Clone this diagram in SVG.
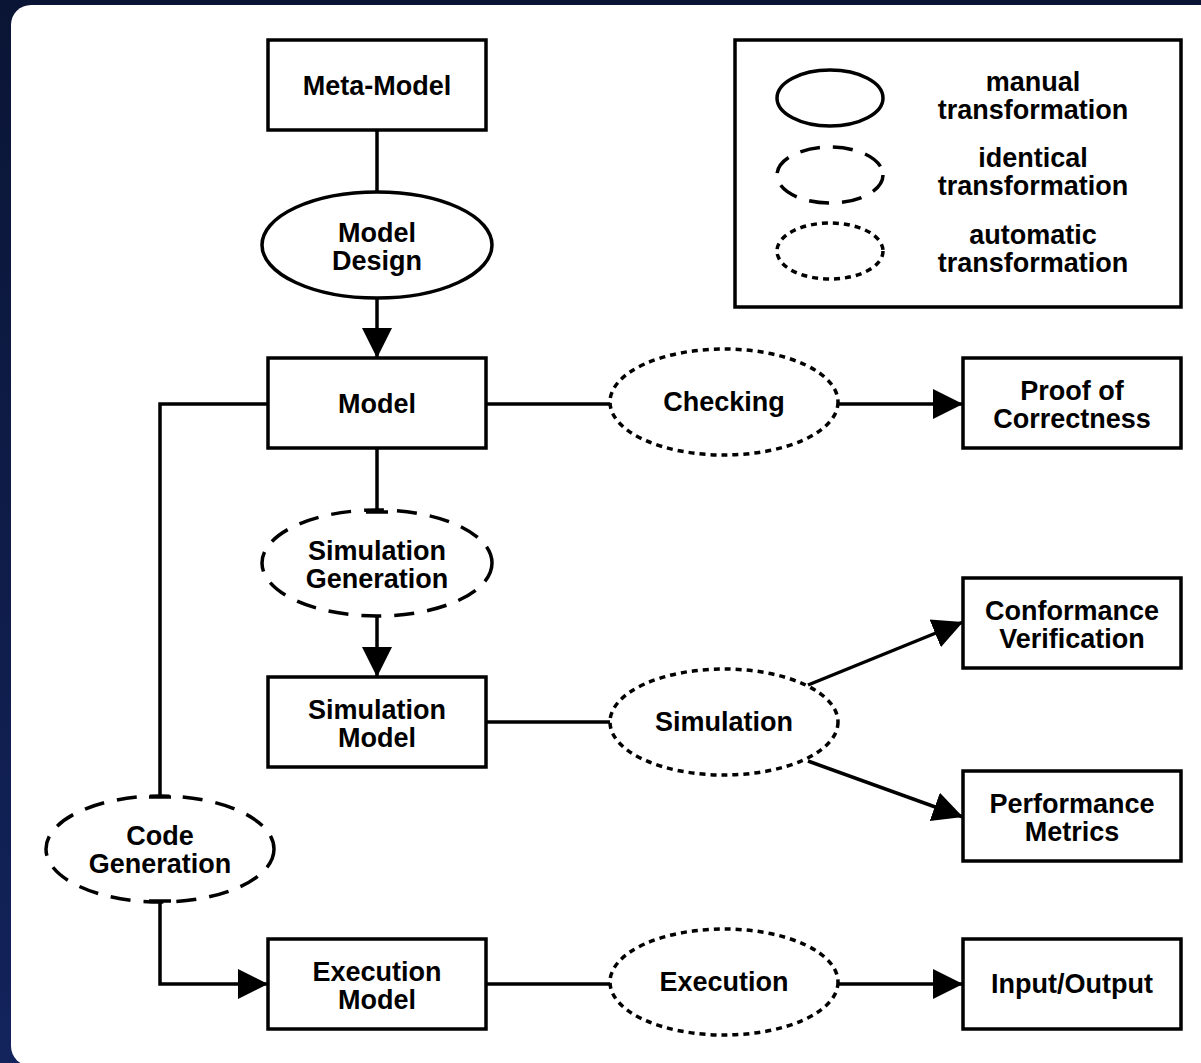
<svg xmlns="http://www.w3.org/2000/svg" width="1201" height="1063" viewBox="0 0 1201 1063">
<style>
.box{fill:#fff;stroke:#000;stroke-width:3.5}
.man{fill:#fff;stroke:#000;stroke-width:3.5}
.ide{fill:#fff;stroke:#000;stroke-width:3.5;stroke-dasharray:20 13}
.aut{fill:#fff;stroke:#000;stroke-width:3.5;stroke-dasharray:6 5}
.c{fill:none;stroke:#000;stroke-width:3.5}
text{font-family:"Liberation Sans",Arial,Helvetica,sans-serif;font-weight:bold;font-size:27px;text-anchor:middle;fill:#000}
</style>
<defs>
<linearGradient id="bg" x1="0" y1="0" x2="0" y2="1">
<stop offset="0" stop-color="#0a1535"/>
<stop offset="1" stop-color="#13235c"/>
</linearGradient>
<marker id="arr" markerUnits="userSpaceOnUse" markerWidth="32" markerHeight="32" refX="30" refY="15" orient="auto" viewBox="0 0 32 30">
<path d="M0,0 L30,15 L0,30 z" fill="#000"/>
</marker>
<marker id="tee" markerUnits="userSpaceOnUse" markerWidth="6" markerHeight="24" refX="3" refY="12" orient="auto" viewBox="0 0 6 24">
<path d="M3,1 L3,23" stroke="#000" stroke-width="3.5"/>
</marker>
</defs>
<rect x="0" y="0" width="1201" height="1063" fill="url(#bg)"/>
<rect x="11" y="5" width="1210" height="1061" rx="20" ry="20" fill="#fff"/>

<g id="meta-model">
<rect class="box" x="268" y="40" width="218" height="90"/>
<text x="377" y="95">Meta-Model</text>
</g>
<g id="model-design">
<ellipse class="man" cx="377" cy="245" rx="115" ry="53"/>
<text x="377" y="242">Model</text>
<text x="377" y="270">Design</text>
</g>
<g id="model">
<rect class="box" x="268" y="358" width="218" height="90"/>
<text x="377" y="413">Model</text>
</g>
<g id="checking">
<ellipse class="aut" cx="724" cy="402" rx="114" ry="53"/>
<text x="724" y="411">Checking</text>
</g>
<g id="proof-of-correctness">
<rect class="box" x="963" y="358" width="218" height="90"/>
<text x="1072" y="400">Proof of</text>
<text x="1072" y="428">Correctness</text>
</g>
<g id="simulation-generation">
<ellipse class="ide" cx="377" cy="563" rx="115" ry="53"/>
<text x="377" y="560">Simulation</text>
<text x="377" y="588">Generation</text>
</g>
<g id="simulation-model">
<rect class="box" x="268" y="677" width="218" height="90"/>
<text x="377" y="719">Simulation</text>
<text x="377" y="747">Model</text>
</g>
<g id="simulation">
<ellipse class="aut" cx="724" cy="722" rx="114" ry="53"/>
<text x="724" y="731">Simulation</text>
</g>
<g id="conformance-verification">
<rect class="box" x="963" y="578" width="218" height="90"/>
<text x="1072" y="620">Conformance</text>
<text x="1072" y="648">Verification</text>
</g>
<g id="performance-metrics">
<rect class="box" x="963" y="771" width="218" height="90"/>
<text x="1072" y="813">Performance</text>
<text x="1072" y="841">Metrics</text>
</g>
<g id="code-generation">
<ellipse class="ide" cx="160" cy="849" rx="114" ry="53"/>
<text x="160" y="845">Code</text>
<text x="160" y="873">Generation</text>
</g>
<g id="execution-model">
<rect class="box" x="268" y="939" width="218" height="90"/>
<text x="377" y="981">Execution</text>
<text x="377" y="1009">Model</text>
</g>
<g id="execution">
<ellipse class="aut" cx="724" cy="982" rx="114" ry="53"/>
<text x="724" y="991">Execution</text>
</g>
<g id="input-output">
<rect class="box" x="963" y="939" width="218" height="90"/>
<text x="1072" y="993">Input/Output</text>
</g>
<g id="legend">
<rect class="box" x="735" y="40" width="446" height="267"/>
<ellipse class="man" cx="830" cy="98" rx="53" ry="28"/>
<ellipse class="ide" cx="830" cy="175" rx="53" ry="28"/>
<ellipse class="aut" cx="830" cy="251" rx="53" ry="28"/>
<text x="1033" y="91">manual</text>
<text x="1033" y="119">transformation</text>
<text x="1033" y="167">identical</text>
<text x="1033" y="195">transformation</text>
<text x="1033" y="244">automatic</text>
<text x="1033" y="272">transformation</text>
</g>

<g id="connectors">
<path class="c" d="M377,130 L377,191"/>
<path class="c" d="M377,299 L377,358" marker-end="url(#arr)"/>
<path class="c" d="M486,404 L610,404"/>
<path class="c" d="M838,404 L963,404" marker-end="url(#arr)"/>
<path class="c" d="M377,448 L377,512" marker-end="url(#tee)"/>
<path class="c" d="M377,617 L377,677" marker-end="url(#arr)"/>
<path class="c" d="M486,722 L610,722"/>
<path class="c" d="M808,685 L963,622" marker-end="url(#arr)"/>
<path class="c" d="M808,761 L963,817" marker-end="url(#arr)"/>
<path class="c" d="M268,404 L160,404 L160,797" marker-end="url(#tee)"/>
<path class="c" d="M160,901 L160,984 L268,984" marker-start="url(#tee)" marker-end="url(#arr)"/>
<path class="c" d="M486,984 L610,984"/>
<path class="c" d="M838,984 L963,984" marker-end="url(#arr)"/>
</g>
</svg>
